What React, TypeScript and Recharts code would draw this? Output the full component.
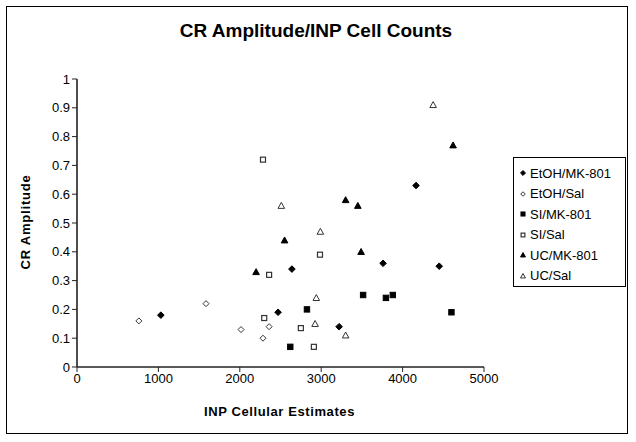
import React from "react";
import { ScatterChart, Scatter, XAxis, YAxis } from "recharts";

const xTicks = [0, 1000, 2000, 3000, 4000, 5000];
const yTicks = [0, 0.1, 0.2, 0.3, 0.4, 0.5, 0.6, 0.7, 0.8, 0.9, 1];

const etohMkX = [1030, 2470, 2640, 3220, 3760, 4165, 4450];
const etohMkY = [0.18, 0.19, 0.34, 0.14, 0.36, 0.63, 0.35];

const etohSalX = [760, 1585, 2015, 2285, 2360];
const etohSalY = [0.16, 0.22, 0.13, 0.1, 0.14];

const siMkX = [2620, 2825, 3515, 3795, 3880, 4600];
const siMkY = [0.07, 0.2, 0.25, 0.24, 0.25, 0.19];

const siSalX = [2285, 2360, 2985, 2300, 2750, 2910];
const siSalY = [0.72, 0.32, 0.39, 0.17, 0.135, 0.07];

const ucMkX = [4620, 3300, 3450, 2550, 3490, 2200];
const ucMkY = [0.77, 0.58, 0.56, 0.44, 0.4, 0.33];

const ucSalX = [4375, 2510, 2990, 2940, 2925, 3300];
const ucSalY = [0.91, 0.56, 0.47, 0.24, 0.15, 0.11];

const zip = (xs: number[], ys: number[]) => xs.map((x, i) => ({ x, y: ys[i] }));

type Kind = "diamondF" | "diamondO" | "squareF" | "squareO" | "triF" | "triO";

const series: { name: string; kind: Kind; data: { x: number; y: number }[] }[] = [
  { name: "EtOH/MK-801", kind: "diamondF", data: zip(etohMkX, etohMkY) },
  { name: "EtOH/Sal", kind: "diamondO", data: zip(etohSalX, etohSalY) },
  { name: "SI/MK-801", kind: "squareF", data: zip(siMkX, siMkY) },
  { name: "SI/Sal", kind: "squareO", data: zip(siSalX, siSalY) },
  { name: "UC/MK-801", kind: "triF", data: zip(ucMkX, ucMkY) },
  { name: "UC/Sal", kind: "triO", data: zip(ucSalX, ucSalY) },
];

const Marker = ({ kind, cx, cy, s = 1 }: { kind: Kind; cx: number; cy: number; s?: number }) => {
  const filled = kind.endsWith("F");
  const fill = filled ? "#000" : "#fff";
  const stroke = filled ? "#000" : "#333";
  if (kind.startsWith("diamond")) {
    const r = (filled ? 3.3 : 3) * s;
    return (
      <polygon
        points={`${cx},${cy - r} ${cx + r},${cy} ${cx},${cy + r} ${cx - r},${cy}`}
        fill={fill}
        stroke={stroke}
        strokeWidth={1}
      />
    );
  }
  if (kind.startsWith("square")) {
    const r = (filled ? 2.7 : 2.5) * s;
    return (
      <rect
        x={cx - r}
        y={cy - r}
        width={2 * r}
        height={2 * r}
        fill={fill}
        stroke={stroke}
        strokeWidth={filled ? 1 : 1.2}
      />
    );
  }
  const r = 3.3 * s;
  return (
    <polygon
      points={`${cx},${cy - r} ${cx + r},${cy + r * 0.8} ${cx - r},${cy + r * 0.8}`}
      fill={fill}
      stroke={stroke}
      strokeWidth={1}
    />
  );
};

const font = "'Liberation Sans', Arial, sans-serif";

export default function App() {
  return (
    <div style={{ position: "absolute", left: 0, top: 0, width: 636, height: 442, background: "#fff", fontFamily: font }}>
      <div
        style={{
          position: "absolute",
          left: 6,
          top: 6,
          width: 622,
          height: 428,
          border: "1px solid #000",
          boxSizing: "border-box",
        }}
      />
      <div
        style={{
          position: "absolute",
          left: 0,
          width: 632,
          top: 20,
          lineHeight: "22px",
          textAlign: "center",
          fontWeight: "bold",
          fontSize: 19,
          color: "#000",
        }}
      >
        CR Amplitude/INP Cell Counts
      </div>
      <div style={{ position: "absolute", left: 0, top: 0 }}>
        <ScatterChart width={636} height={442} margin={{ top: 79, right: 152, bottom: 45, left: 37 }}>
          <XAxis
            type="number"
            dataKey="x"
            domain={[0, 5000]}
            ticks={xTicks}
            interval={0}
            height={30}
            axisLine={{ stroke: "#222", strokeWidth: 1.6 }}
            tickLine={{ stroke: "#222" }}
            tickSize={5}
            tick={{ fill: "#000", fontSize: 13, fontFamily: font }}
          />
          <YAxis
            type="number"
            dataKey="y"
            domain={[0, 1]}
            ticks={yTicks}
            interval={0}
            width={40}
            axisLine={{ stroke: "#222", strokeWidth: 1.6 }}
            tickLine={{ stroke: "#222" }}
            tickSize={5}
            tickFormatter={(v: number) => String(Math.round(v * 10) / 10)}
            tick={{ fill: "#000", fontSize: 13, fontFamily: font }}
          />
          {series.map((s) => (
            <Scatter
              key={s.name}
              name={s.name}
              data={s.data}
              isAnimationActive={false}
              shape={(p: any) => <Marker kind={s.kind} cx={p.cx} cy={p.cy} />}
            />
          ))}
        </ScatterChart>
      </div>
      <div
        style={{
          position: "absolute",
          left: 25,
          top: 222,
          transform: "translate(-50%, -50%) rotate(-90deg)",
          fontWeight: "bold",
          fontSize: 13,
          letterSpacing: 0.8,
          whiteSpace: "nowrap",
          color: "#000",
        }}
      >
        CR Amplitude
      </div>
      <div
        style={{
          position: "absolute",
          left: 77,
          width: 405,
          top: 404,
          textAlign: "center",
          fontWeight: "bold",
          fontSize: 13,
          letterSpacing: 0.6,
          color: "#000",
        }}
      >
        INP Cellular Estimates
      </div>
      <div
        style={{
          position: "absolute",
          left: 513,
          top: 157,
          width: 113,
          height: 130,
          border: "1px solid #000",
          boxSizing: "border-box",
          paddingTop: 5,
        }}
      >
        {series.map((s) => (
          <div key={s.name} style={{ height: 20.5, display: "flex", alignItems: "center", fontSize: 13, color: "#000" }}>
            <svg width={14} height={12} style={{ flex: "none" }}>
              <Marker kind={s.kind} cx={9} cy={6} s={0.75} />
            </svg>
            <span style={{ marginLeft: 2 }}>{s.name}</span>
          </div>
        ))}
      </div>
    </div>
  );
}
